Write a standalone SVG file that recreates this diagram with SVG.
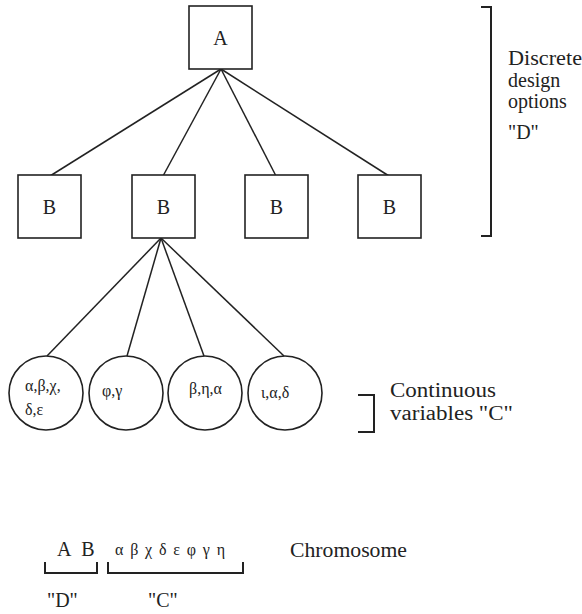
<svg xmlns="http://www.w3.org/2000/svg" width="582" height="614" viewBox="0 0 582 614">
<style>
.box{fill:#fff;stroke:#222;stroke-width:1.6}
.circ{fill:#fff;stroke:#222;stroke-width:1.6}
.ln{stroke:#222;stroke-width:1.5;fill:none}
.br{stroke:#222;stroke-width:2;fill:none}
text{fill:#222}
.nl{font-size:20px;text-anchor:middle}
.gk{font-size:16px}
.lb{font-size:20px}
</style>
<rect width="582" height="614" fill="#fff"/>
<g id="connectors">
<line class="ln" x1="221" y1="69" x2="50" y2="176"/>
<line class="ln" x1="221" y1="69" x2="163" y2="176"/>
<line class="ln" x1="221" y1="69" x2="276" y2="176"/>
<line class="ln" x1="221" y1="69" x2="389" y2="176"/>
<line class="ln" x1="161" y1="238" x2="47" y2="356"/>
<line class="ln" x1="161" y1="238" x2="127" y2="356"/>
<line class="ln" x1="161" y1="238" x2="204" y2="356"/>
<line class="ln" x1="161" y1="238" x2="284" y2="356"/>
</g>
<g font-family="Liberation Serif, DejaVu Serif, Times New Roman, serif">
<g id="nodeA"><rect class="box" x="189" y="6" width="63" height="63"/><text class="nl" x="220.5" y="45">A</text></g>
<g id="nodeB1"><rect class="box" x="18" y="175" width="63" height="63"/><text class="nl" x="49.5" y="214">B</text></g>
<g id="nodeB2"><rect class="box" x="132" y="175" width="63" height="63"/><text class="nl" x="163.5" y="214">B</text></g>
<g id="nodeB3"><rect class="box" x="245" y="175" width="63" height="63"/><text class="nl" x="276.5" y="214">B</text></g>
<g id="nodeB4"><rect class="box" x="358" y="175" width="63" height="63"/><text class="nl" x="389.5" y="214">B</text></g>
<g id="nodeC1"><circle class="circ" cx="46" cy="393" r="37"/><text class="gk" x="25" y="391">α,β,χ,</text><text class="gk" x="25" y="415">δ,ε</text></g>
<g id="nodeC2"><circle class="circ" cx="126" cy="393" r="37"/><text class="gk" x="102" y="396">φ,γ</text></g>
<g id="nodeC3"><circle class="circ" cx="205" cy="393" r="37"/><text class="gk" x="189" y="394">β,η,α</text></g>
<g id="nodeC4"><circle class="circ" cx="285" cy="393" r="37"/><text class="gk" x="261" y="398">ι,α,δ</text></g>
<g id="bracketD">
<polyline class="br" points="481,7 491,7 491,236 481,236"/>
<text class="lb" x="508" y="65" textLength="74" lengthAdjust="spacingAndGlyphs">Discrete</text>
<text class="lb" x="508" y="87">design</text>
<text class="lb" x="508" y="108">options</text>
<text class="lb" x="508" y="139">"D"</text>
</g>
<g id="bracketC">
<polyline class="br" points="358,395 374,395 374,432 358,432"/>
<text class="lb" x="390" y="397" textLength="106" lengthAdjust="spacingAndGlyphs">Continuous</text>
<text class="lb" x="390" y="420" textLength="123" lengthAdjust="spacingAndGlyphs">variables "C"</text>
</g>
<g id="chromosome">
<text class="lb" x="57" y="556" letter-spacing="3">A B</text>
<text class="gk" x="115" y="555" textLength="110" lengthAdjust="spacing">α β χ δ ε φ γ η</text>
<text class="lb" x="290" y="557" textLength="117" lengthAdjust="spacingAndGlyphs">Chromosome</text>
<polyline class="br" points="45,562 45,573 97,573 97,562"/>
<polyline class="br" points="108,562 108,573 243,573 243,562"/>
<text class="lb" x="47" y="607">"D"</text>
<text class="lb" x="148" y="607">"C"</text>
</g>
</g>
</svg>
